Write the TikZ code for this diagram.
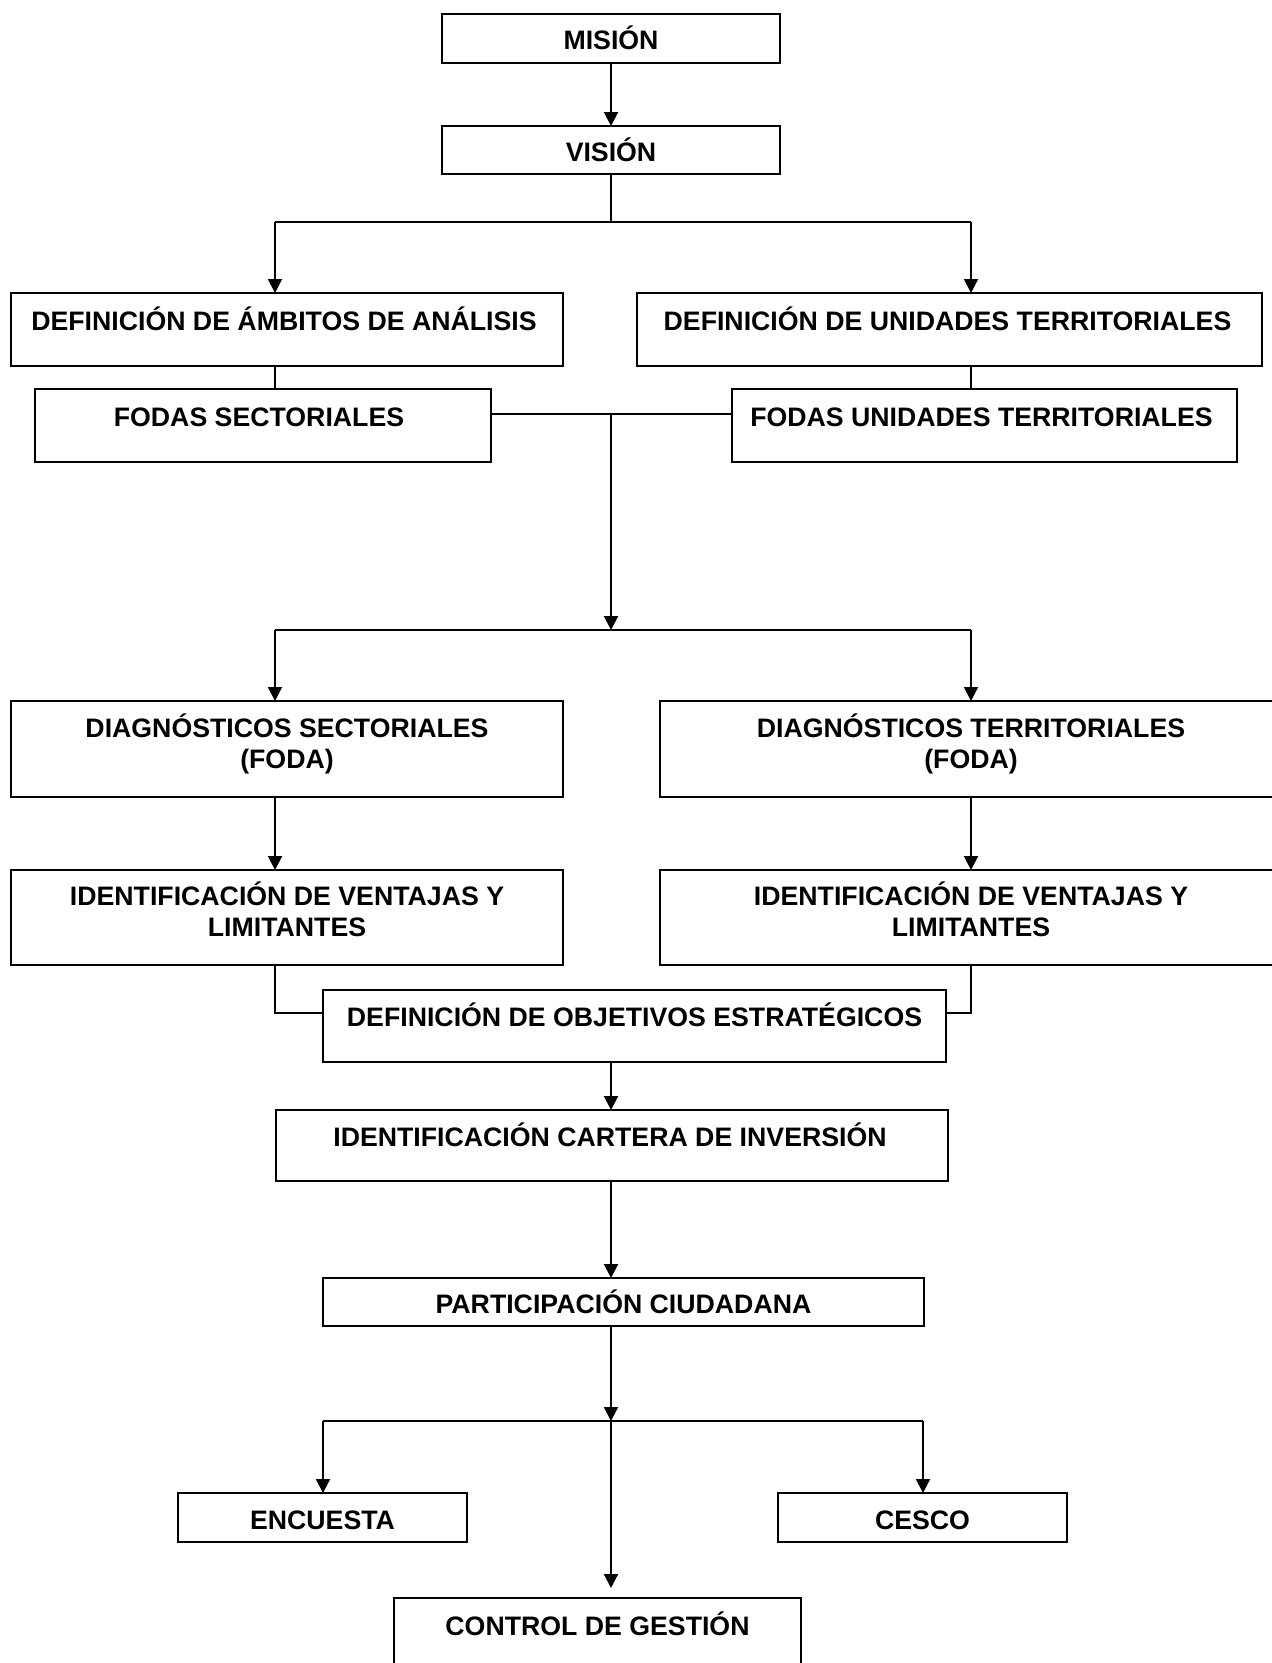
\documentclass[tikz,border=0pt]{standalone}
\usepackage{fontspec}
\setmainfont{Liberation Sans}
\usetikzlibrary{arrows.meta}
\newcommand\mkbox[5]{\node[box, minimum width={#4-#2}, minimum height={#5-#3}] (#1) at (#2,#3) {};}
\begin{document}
\begin{tikzpicture}[x=1pt,y=-1pt,
  box/.style={draw, line width=2.2pt, inner sep=0pt, outer sep=0pt, anchor=north west},
  lbl/.style={anchor=base, inner sep=0pt, font=\fontsize{26.7}{31.5}\selectfont\bfseries},
  con/.style={line width=2pt},
  arr/.style={con, -{Triangle[length=14pt,width=14pt]}}]
\useasboundingbox (0,0) rectangle (1272,1663);
\clip (0,0) rectangle (1272,1663);
% boxes
\mkbox{mision}{442}{14}{780}{63}
\mkbox{vision}{442}{126}{780}{174}
\mkbox{amb}{11}{293}{563}{366}
\mkbox{uni}{637}{293}{1262}{366}
\mkbox{fodaS}{35}{389}{491}{462}
\mkbox{fodaU}{732}{389}{1237}{462}
\mkbox{diagS}{11}{701}{563}{797}
\mkbox{diagT}{660}{701}{1282}{797}
\mkbox{identS}{11}{870}{563}{965}
\mkbox{identT}{660}{870}{1282}{965}
\mkbox{obj}{323}{990}{946}{1062}
\mkbox{cart}{276}{1110}{948}{1181}
\mkbox{part}{323}{1278}{924}{1326}
\mkbox{enc}{178}{1493}{467}{1542}
\mkbox{cesco}{778}{1493}{1067}{1542}
\mkbox{ctrl}{394}{1598}{801}{1700}
% labels
\node[lbl] (tmision) at ([yshift=-35pt]mision.north) {MISIÓN};
\node[lbl] (tvision) at ([yshift=-35pt]vision.north) {VISIÓN};
\node[lbl] (tamb) at ([xshift=-3pt,yshift=-37pt]amb.north) {DEFINICIÓN DE ÁMBITOS DE ANÁLISIS};
\node[lbl] (tuni) at ([xshift=-2pt,yshift=-37pt]uni.north) {DEFINICIÓN DE UNIDADES TERRITORIALES};
\node[lbl] (tfodaS) at ([xshift=-4pt,yshift=-37pt]fodaS.north) {FODAS SECTORIALES};
\node[lbl] (tfodaU) at ([xshift=-3pt,yshift=-37pt]fodaU.north) {FODAS UNIDADES TERRITORIALES};
\node[lbl] (tdiagS) at ([yshift=-36pt]diagS.north) {\begin{tabular}[t]{@{}c@{}}DIAGNÓSTICOS SECTORIALES\\(FODA)\end{tabular}};
\node[lbl] (tdiagT) at ([yshift=-36pt]diagT.north) {\begin{tabular}[t]{@{}c@{}}DIAGNÓSTICOS TERRITORIALES\\(FODA)\end{tabular}};
\node[lbl] (tidentS) at ([yshift=-35pt]identS.north) {\begin{tabular}[t]{@{}c@{}}IDENTIFICACIÓN DE VENTAJAS Y\\LIMITANTES\end{tabular}};
\node[lbl] (tidentT) at ([yshift=-35pt]identT.north) {\begin{tabular}[t]{@{}c@{}}IDENTIFICACIÓN DE VENTAJAS Y\\LIMITANTES\end{tabular}};
\node[lbl] (tobj) at ([yshift=-36pt]obj.north) {DEFINICIÓN DE OBJETIVOS ESTRATÉGICOS};
\node[lbl] (tcart) at ([xshift=-2pt,yshift=-36pt]cart.north) {IDENTIFICACIÓN CARTERA DE INVERSIÓN};
\node[lbl] (tpart) at ([yshift=-35pt]part.north) {PARTICIPACIÓN CIUDADANA};
\node[lbl] (tenc) at ([yshift=-36pt]enc.north) {ENCUESTA};
\node[lbl] (tcesco) at ([yshift=-36pt]cesco.north) {CESCO};
\node[lbl] (tctrl) at ([yshift=-37pt]ctrl.north) {CONTROL DE GESTIÓN};
% junction coordinates
\coordinate (j1) at (611,222);
\coordinate (j1L) at (275,222);
\coordinate (j1R) at (971,222);
\coordinate (mid) at (611,414);
\coordinate (j2) at (611,630);
\coordinate (j2L) at (275,630);
\coordinate (j2R) at (971,630);
\coordinate (k) at (0,1013);
\coordinate (j3) at (611,1421);
\coordinate (j3L) at (323,1421);
\coordinate (j3R) at (923,1421);
\coordinate (ct) at (611,1588);
% connectors
\draw[arr] (mision.south) -- (vision.north);
\draw[con] (vision.south) -- (j1);
\draw[con] (j1L) -- (j1R);
\draw[arr] (j1L) -- (j1L |- amb.north);
\draw[arr] (j1R) -- (j1R |- uni.north);
\draw[con] (j1L |- amb.south) -- (j1L |- fodaS.north);
\draw[con] (j1R |- uni.south) -- (j1R |- fodaU.north);
\draw[con] (fodaS.east |- mid) -- (fodaU.west |- mid);
\draw[arr] (mid) -- (j2);
\draw[con] (j2L) -- (j2R);
\draw[arr] (j2L) -- (j2L |- diagS.north);
\draw[arr] (j2R) -- (j2R |- diagT.north);
\draw[arr] (j2L |- diagS.south) -- (j2L |- identS.north);
\draw[arr] (j2R |- diagT.south) -- (j2R |- identT.north);
\draw[con] (j2L |- identS.south) |- (obj.west |- k);
\draw[con] (j2R |- identT.south) |- (obj.east |- k);
\draw[arr] (obj.south -| mid) -- (cart.north -| mid);
\draw[arr] (cart.south -| mid) -- (part.north -| mid);
\draw[arr] (part.south -| mid) -- (j3);
\draw[con] (j3L) -- (j3R);
\draw[arr] (j3L) -- (j3L |- enc.north);
\draw[arr] (j3R) -- (j3R |- cesco.north);
\draw[arr] (j3) -- (ct);
\end{tikzpicture}
\end{document}
